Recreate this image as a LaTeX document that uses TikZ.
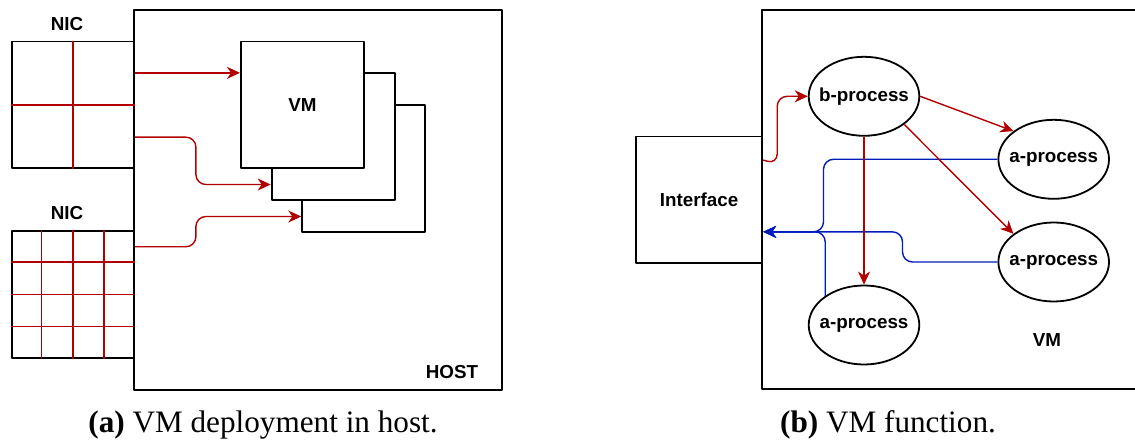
\documentclass[tikz,border=0pt]{standalone}
\usepackage{fontspec}
\setmainfont{Liberation Serif}
\newfontfamily\diafont{Liberation Sans}
\usetikzlibrary{arrows.meta,calc,shapes.geometric}
\definecolor{nicred}{HTML}{B20000}
\definecolor{retblue}{HTML}{001DBC}
\begin{document}
\begin{tikzpicture}[x=0.5pt, y=-0.5pt, line join=round,
	>={Stealth[length=6.5pt,width=6pt,inset=2pt]},
	font=\diafont\fontsize{9.4}{11.2}\selectfont\bfseries,
	box/.style={draw, line width=0.9pt, inner sep=0pt, anchor=north west},
	vmbox/.style={box, fill=white, minimum width=61.5pt, minimum height=63.4pt},
	proc/.style={draw, ellipse, line width=0.9pt, inner xsep=-3pt, inner ysep=0pt,
		minimum width=55.3pt, minimum height=39.5pt},
	nicgrid/.style={draw=nicred, line width=0.7pt},
	redarr/.style={->, draw=nicred, line width=0.7pt, rounded corners=5pt},
	bluearr/.style={->, draw=retblue, line width=0.7pt, rounded corners=5pt},
	caption/.style={font=\rmfamily\fontsize{15.6}{18}\selectfont}]
	\useasboundingbox (0,0) rectangle (1135,443);
	\node[box, minimum width=184pt, minimum height=190pt] (host) at (133,9) {};
	\node[box, minimum width=61.2pt, minimum height=63.4pt] (nic1) at (10.7,40.7) {};
	\node[box, minimum width=61.2pt, minimum height=63.5pt] (nic2) at (10.7,230) {};
	\foreach \f in {.5}
	\draw[nicgrid] ($(nic1.north west)!\f!(nic1.north east)$) -- ($(nic1.south west)!\f!(nic1.south east)$)
		($(nic1.north west)!\f!(nic1.south west)$) -- ($(nic1.north east)!\f!(nic1.south east)$);
	\foreach \f in {.25,.5,.75}
	\draw[nicgrid] ($(nic2.north west)!\f!(nic2.north east)$) -- ($(nic2.south west)!\f!(nic2.south east)$)
		($(nic2.north west)!\f!(nic2.south west)$) -- ($(nic2.north east)!\f!(nic2.south east)$);
	\node (nic1lbl) at (67,24) {NIC};
	\node (nic2lbl) at (67,213) {NIC};
	\node (hostlbl) at (452,372) {HOST};
	\node[vmbox] (vm3) at (301.3,104) {};
	\node[vmbox] (vm2) at (270.7,72) {};
	\node[vmbox] (vm1) at (240,40.7) {VM};
	\coordinate (n1a) at ($(nic1.north east)!.25!(nic1.south east)$);
	\coordinate (n1b) at ($(nic1.north east)!.75!(nic1.south east)$);
	\coordinate (n2a) at ($(nic2.north east)!.13!(nic2.south east)$);
	\coordinate (v1a) at ($(vm1.north west)!.25!(vm1.south west)$);
	\coordinate (v2a) at ($(vm2.north west)!.875!(vm2.south west)$);
	\coordinate (v3a) at ($(vm3.north west)!.875!(vm3.south west)$);
	\draw[redarr] (n1a) -- (v1a);
	\draw[redarr] (n1b) -- ++(61,0) |- (v2a);
	\draw[redarr] (n2a) -- ++(61,0) |- (v3a);
	\begin{scope}
		\clip (0,0) rectangle (1135,443);
		\node[box, minimum width=192pt, minimum height=189.7pt] (vmb) at (761.3,9) {};
	\end{scope}
	\node[box, minimum width=63.2pt, minimum height=63.2pt] (iface) at (635,135.7) {Interface};
	\node (vmlbl) at (1047,340) {VM};
	\node[proc] (bproc) at (864,96.3) {b-process};
	\node[proc] (a1) at (1053.7,159.3) {a-process};
	\node[proc] (a2) at (1053.7,262) {a-process};
	\node[proc] (a3) at (864,325) {a-process};
	\coordinate (ifr) at ($(iface.north east)!.19!(iface.south east)$);
	\coordinate (ifb) at ($(iface.north east)!.75!(iface.south east)$);
	\draw[bluearr] (a1.west) -- ++(-174,0) |- (ifb);
	\draw[bluearr] (a2.west) -- ++(-95,0) |- (ifb);
	\draw[bluearr] (a3.143) |- (ifb);
	\draw[redarr] (ifr) -- ++(14,4) |- (bproc.west);
	\draw[redarr] (bproc.east) -- (a1.145);
	\draw[redarr] (bproc.-35) -- (a2.145);
	\draw[redarr] (bproc.south) -- (a3.north);
	\node[caption] (capa) at (263,425) {\textbf{(a)} VM deployment in host.};
	\node[caption] (capb) at (888,425) {\textbf{(b)} VM function.};
\end{tikzpicture}
\end{document}
